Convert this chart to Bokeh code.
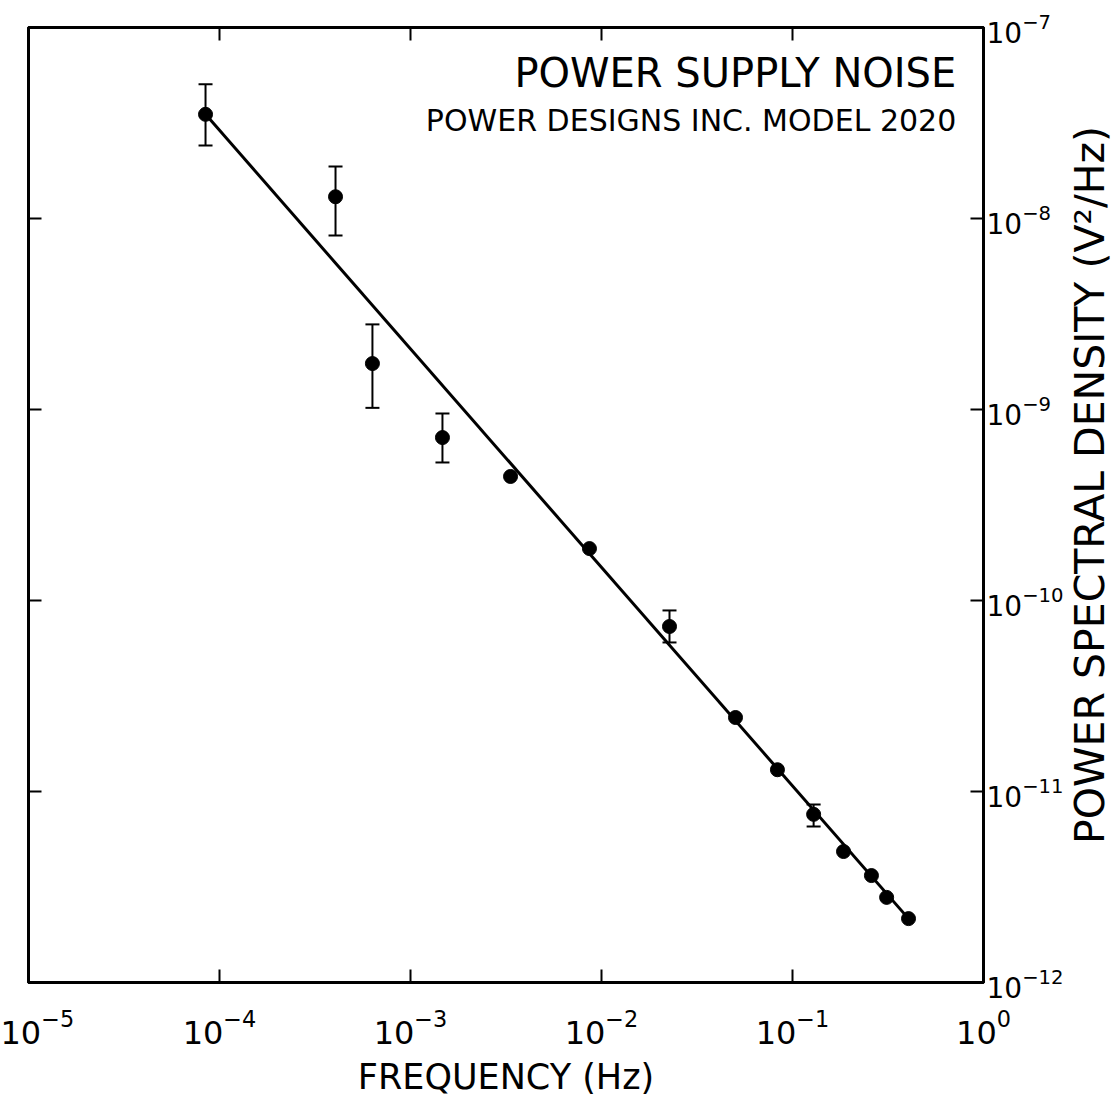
import math
from bokeh.plotting import figure
from bokeh.layouts import row
from bokeh.models import (LogAxis, FixedTicker, Whisker, TeeHead, ColumnDataSource,
                          Label, CustomJSTickFormatter)
from bokeh.core.properties import value
from bokeh.embed import file_html
from bokeh.resources import INLINE

# ---- data ----
freq = [8.45e-5, 4.05e-4, 6.32e-4, 1.47e-3, 3.34e-3, 8.65e-3, 2.27e-2,
        5.03e-2, 8.34e-2, 0.129, 0.185, 0.259, 0.311, 0.405]
psd = [3.51e-8, 1.30e-8, 1.74e-9, 7.13e-10, 4.46e-10, 1.87e-10, 7.31e-11,
       2.44e-11, 1.30e-11, 7.59e-12, 4.85e-12, 3.63e-12, 2.79e-12, 2.16e-12]

err_freq = [8.45e-5, 4.05e-4, 6.32e-4, 1.47e-3, 2.27e-2, 0.129]
err_upper = [5.04e-8, 1.87e-8, 2.79e-9, 9.53e-10, 8.87e-11, 8.55e-12]
err_lower = [2.41e-8, 8.15e-9, 1.02e-9, 5.28e-10, 6.03e-11, 6.56e-12]

fit_freq = [8.45e-5, 0.405]
fit_psd = [3.51e-8, 2.16e-12]

x_ticks = [1e-5, 1e-4, 1e-3, 1e-2, 1e-1, 1e0]
y_ticks = [1e-12, 1e-11, 1e-10, 1e-9, 1e-8, 1e-7]

title_lines = ["POWER SUPPLY NOISE", "POWER DESIGNS INC. MODEL 2020"]
x_label = "FREQUENCY (Hz)"
y_label = "POWER SPECTRAL DENSITY (V\u00b2/Hz)"

FONT = "DejaVu Sans"

p = figure(width=1066, height=1101, x_axis_type="log", y_axis_type="log",
           x_range=(1e-5, 1e0), y_range=(1e-12, 1e-7),
           x_axis_location="below", y_axis_location="right",
           output_backend="svg", toolbar_location=None,
           min_border_left=28, min_border_right=83,
           min_border_top=27, min_border_bottom=119)

p.background_fill_color = "white"
p.border_fill_color = "white"
p.outline_line_color = "black"
p.outline_line_width = 3
p.xgrid.visible = False
p.ygrid.visible = False

def style_axis(ax, ticks, size="32px", labels=True):
    ax.ticker = FixedTicker(ticks=ticks)
    ax.major_tick_in = 13
    ax.major_tick_out = 0
    ax.major_tick_line_width = 2
    ax.major_tick_line_color = "black"
    ax.minor_tick_line_color = None
    ax.axis_line_width = 3
    ax.axis_line_color = "black"
    if labels:
        ax.major_label_text_font = FONT
        ax.major_label_text_font_size = size
        ax.major_label_text_color = "black"
    else:
        ax.formatter = CustomJSTickFormatter(code="return ''")

style_axis(p.xaxis[0], x_ticks, size="32px")
style_axis(p.yaxis[0], y_ticks, size="28px")
p.xaxis[0].major_label_standoff = 26
p.yaxis[0].major_label_standoff = 3

xa = p.xaxis[0]
xa.axis_label = x_label
xa.axis_label_text_font = FONT
xa.axis_label_text_font_size = "35px"
xa.axis_label_text_font_style = "normal"
xa.axis_label_text_color = "black"
xa.axis_label_standoff = 10

left_ax = LogAxis()
style_axis(left_ax, y_ticks, labels=False)
p.add_layout(left_ax, "left")
top_ax = LogAxis()
style_axis(top_ax, x_ticks, labels=False)
p.add_layout(top_ax, "above")

# fit line
p.line(fit_freq, fit_psd, line_color="black", line_width=3)

# error bars
err_src = ColumnDataSource(data=dict(x=err_freq, upper=err_upper, lower=err_lower))
p.add_layout(Whisker(source=err_src, base="x", upper="upper", lower="lower",
                     dimension="height", line_width=2, line_color="black",
                     upper_head=TeeHead(size=14, line_width=2, line_color="black"),
                     lower_head=TeeHead(size=14, line_width=2, line_color="black"),
                     level="glyph"))

# data points
p.scatter(freq, psd, size=14, marker="circle", fill_color="black", line_color="black")

# title text inside frame (right aligned)
p.add_layout(Label(x=0.72, y=5.81e-8, text=title_lines[0], text_align="right",
                   text_baseline="alphabetic", text_font=FONT, text_font_size="40px",
                   text_color="black"))
p.add_layout(Label(x=0.72, y=3.26e-8, text=title_lines[1], text_align="right",
                   text_baseline="alphabetic", text_font=FONT, text_font_size="30px",
                   text_color="black"))

# narrow strip at the right that carries the y-axis title, reading upward
p2 = figure(width=47, height=1101, x_range=(0, 1), y_range=(0, 1),
            output_backend="svg", toolbar_location=None,
            min_border=0, outline_line_color=None)
p2.axis.visible = False
p2.grid.visible = False
p2.background_fill_color = "white"
p2.border_fill_color = "white"
p2.text(x=[0.49], y=[0.521], text=[y_label], angle=math.pi / 2,
        text_align="center", text_baseline="middle",
        text_font=value(FONT), text_font_size="41px", text_color="black")

layout = row(p, p2, spacing=0)
open("out.html", "w").write(file_html(layout, INLINE))
